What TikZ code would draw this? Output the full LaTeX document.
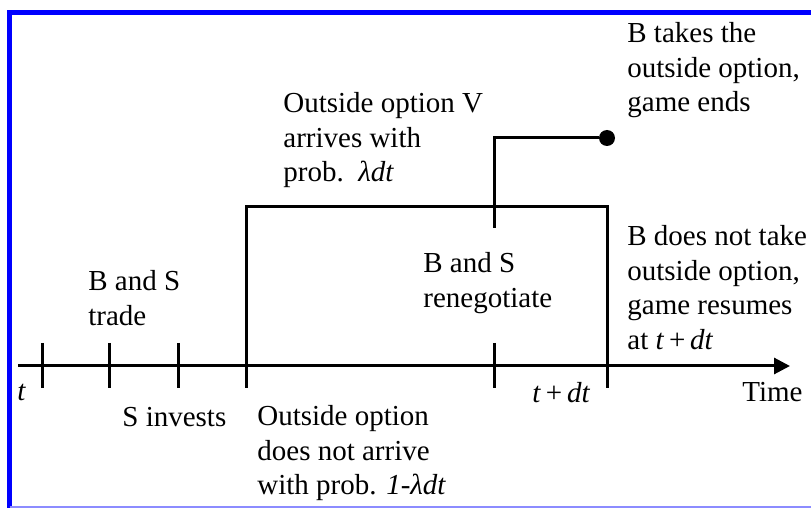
\documentclass[tikz,border=0pt]{standalone}
\usepackage{fontspec}
\setmainfont{Liberation Serif}
\usepackage{tikz}
\usetikzlibrary{arrows.meta, positioning, calc}

\begin{document}
\begin{tikzpicture}[x=0.5pt, y=-0.5pt,
	every node/.style = {align=left, inner sep=0pt,
		font=\fontsize{14.5}{17.3}\selectfont},
	line/.style = {line width=1.5pt},
	dot/.style = {circle, fill, minimum size=8pt, inner sep=0pt}]
	\useasboundingbox (0,0) rectangle (811,508);
	% frame
	\draw[blue, line width=2.5pt] (9.5,508) |- (811,12.5);
	\draw[blue!45, line width=1pt] (9.5,507) -- (811,507);
	% time line
	\coordinate (start) at (18,366);
	\coordinate (end) at (790,366);
	\draw[line, -{Triangle[length=8pt, width=8pt]}] (start) -- (end);
	\foreach \x/\n in {42/a, 109/b, 178/c, 246/d, 494/e, 607/f} {
		\coordinate (up\n) at (\x,343);
		\coordinate (dn\n) at (\x,388);
	}
	\foreach \n in {a, b, c, e}
		\draw[line] (up\n) -- (dn\n);
	% branches
	\coordinate (boxtop) at (246,207);
	\coordinate (branch) at (494,228);
	\node[dot] (ends) at (607,138) {};
	\draw[line] (dnd) -- (boxtop) -| (dnf);
	\draw[line] (branch) |- (ends);
	% labels
	\node[anchor=base west] (t0) at (17,401) {\textit{t}};
	\node[anchor=north west] (trade) at (88,270) {B and S\\trade};
	\node[anchor=base west] (invest) at (122,427) {S invests};
	\node[anchor=north west] (arrive) at (283,92) {Outside option V\\arrives with\\prob.\ \ \textit{λdt}};
	\node[anchor=north west] (noarrive) at (257,405) {Outside option\\does not arrive\\with prob. \textit{1-λdt}};
	\node[anchor=north west] (reneg) at (423,252) {B and S\\renegotiate};
	\node[anchor=base west] (tdt) at (532,403) {\textit{t}\,+\,\textit{dt}};
	\node[anchor=north west] (take) at (627,22) {B takes the\\outside option,\\game ends};
	\node[anchor=north west] (resume) at (627,225) {B does not take\\outside option,\\game resumes\\at \textit{t}\,+\,\textit{dt}};
	\node[anchor=base west] (time) at (742,402) {Time};
\end{tikzpicture}
\end{document}
